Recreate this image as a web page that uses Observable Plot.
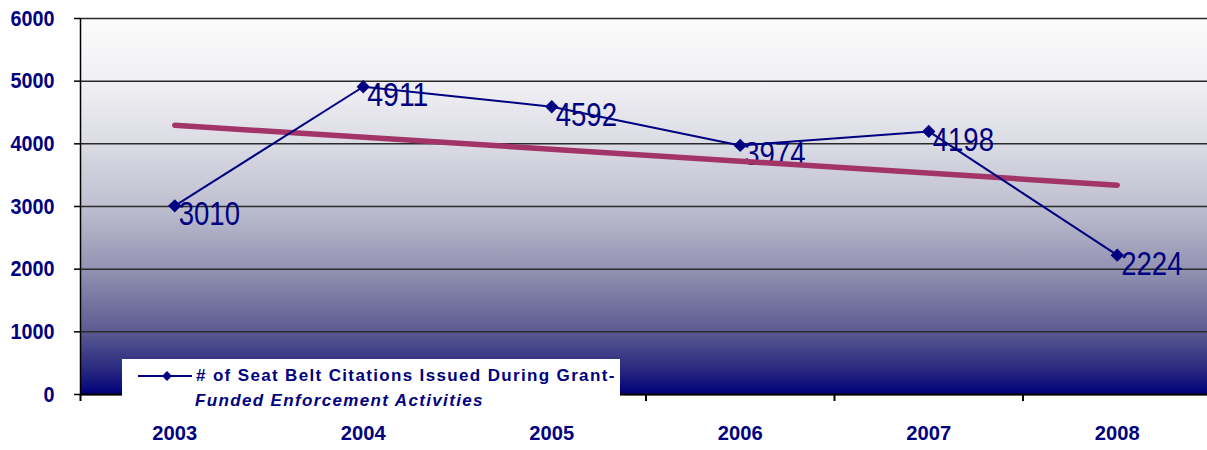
<!DOCTYPE html>
<html>
<head>
<meta charset="utf-8">
<script src="https://cdn.jsdelivr.net/npm/d3@7"></script>
<script src="https://cdn.jsdelivr.net/npm/@observablehq/plot@0.6"></script>
<style>
  html, body { margin: 0; padding: 0; background: #fff; overflow: hidden; }
  #wrap { position: relative; width: 1207px; height: 450px; }
  #legend {
    position: absolute; left: 122px; top: 359px; width: 498px; height: 56px;
    background: #fff; color: #000080;
    font-family: "Liberation Sans", Arial, sans-serif; font-size: 17px; font-weight: bold;
    letter-spacing: 1.35px;
  }
  #legend .l1 { position: absolute; left: 16px; top: 7px; white-space: nowrap; display: flex; align-items: center; }
  #legend .l2 { position: absolute; left: 73px; top: 32px; white-space: nowrap; font-style: italic; }
</style>
</head>
<body>
<div id="wrap"></div>
<script>
const years = [2003, 2004, 2005, 2006, 2007, 2008];
const citations = [3010, 4911, 4592, 3974, 4198, 2224];
const yTicks = [0, 1000, 2000, 3000, 4000, 5000, 6000];
const seriesName = ["# of Seat Belt Citations Issued During Grant-", "Funded Enforcement Activities"];

const data = years.map((year, i) => ({year, value: citations[i]}));
const boundaries = [years[0] - 0.5, ...years.map(y => y + 0.5)];

const navy = "#000080";
const sans = "'Liberation Sans', Arial, sans-serif";

function background(index, scales, values, dim) {
  const ns = "http://www.w3.org/2000/svg";
  const g = document.createElementNS(ns, "g");
  const defs = document.createElementNS(ns, "defs");
  const grad = document.createElementNS(ns, "linearGradient");
  grad.setAttribute("id", "bg");
  grad.setAttribute("x1", "0"); grad.setAttribute("y1", "0");
  grad.setAttribute("x2", "0"); grad.setAttribute("y2", "1");
  [[0, "#fcfcfc"], [0.17, "#f0f0f4"], [0.33, "#dcdce5"], [0.5, "#bfbfd0"],
   [0.67, "#9292b2"], [0.83, "#5c5c93"], [0.94, "#26267f"], [1, "#00007c"]].forEach(([o, c]) => {
    const s = document.createElementNS(ns, "stop");
    s.setAttribute("offset", o); s.setAttribute("stop-color", c);
    grad.appendChild(s);
  });
  defs.appendChild(grad);
  g.appendChild(defs);
  const r = document.createElementNS(ns, "rect");
  r.setAttribute("x", dim.marginLeft);
  r.setAttribute("y", dim.marginTop);
  r.setAttribute("width", dim.width - dim.marginLeft - dim.marginRight);
  r.setAttribute("height", dim.height - dim.marginTop - dim.marginBottom);
  r.setAttribute("fill", "url(#bg)");
  g.appendChild(r);
  return g;
}

const plot = Plot.plot({
  width: 1207,
  height: 450,
  marginTop: 18,
  marginBottom: 56,
  marginLeft: 80,
  marginRight: 0,
  style: {background: "transparent", overflow: "visible"},
  x: {domain: [boundaries[0], boundaries[boundaries.length - 1]], range: [80, 1211]},
  y: {domain: [0, 6000]},
  marks: [
    background,
    Plot.gridY(yTicks, {stroke: "#2a2a2a", strokeOpacity: 1, strokeWidth: 1.5}),
    Plot.axisY({ticks: yTicks, tickSize: 6, tickPadding: 20, tickFormat: d => String(d),
      fontSize: 22, fontWeight: "bold", fill: navy, fontFamily: sans, stroke: null, label: null}),
    Plot.axisY({ticks: yTicks, tickSize: 6, text: null, stroke: "#000", strokeWidth: 1.5, label: null}),
    Plot.axisX({ticks: boundaries, tickSize: 7, text: null, stroke: "#000", strokeWidth: 2, label: null}),
    Plot.axisX({ticks: years, tickSize: 0, tickPadding: 31, tickFormat: d => String(d),
      fontSize: 21, fontWeight: "bold", fill: navy, fontFamily: sans, label: null}),
    Plot.ruleX([boundaries[0]], {stroke: "#000", strokeWidth: 1.5}),
    Plot.ruleY([0], {stroke: "#000", strokeWidth: 2}),
    Plot.text(data, {x: "year", y: "value", text: d => String(d.value), textAnchor: "start",
      dx: 4, dy: 9, fontSize: 33, fill: navy, fontFamily: sans}),
    Plot.linearRegressionY(data, {x: "year", y: "value", ci: 0, stroke: "#a23468", strokeWidth: 5.5}),
    Plot.line(data, {x: "year", y: "value", stroke: navy, strokeWidth: 2}),
    Plot.dot(data, {x: "year", y: "value", symbol: "diamond2", r: 6, fill: navy, stroke: null})
  ]
});

// condense the narrow-font texts (Arial Narrow look)
function condense(selector, perChar) {
  plot.querySelectorAll(selector).forEach(t => {
    t.setAttribute("textLength", t.textContent.length * perChar);
    t.setAttribute("lengthAdjust", "spacingAndGlyphs");
  });
}
condense('g[aria-label="text"] text', 15.3);
condense('g[aria-label="y-axis tick label"] text', 11);
condense('g[aria-label="x-axis tick label"] text', 11.2);

const wrap = document.getElementById("wrap");
wrap.appendChild(plot);

const legend = document.createElement("div");
legend.id = "legend";
legend.innerHTML =
  '<div class="l1"><svg width="56" height="12" style="margin-right:2px"><line x1="0" y1="6" x2="54" y2="6" stroke="' + navy + '" stroke-width="2"/>' +
  '<path d="M29,1 L34,6 L29,11 L24,6 Z" fill="' + navy + '"/></svg><span></span></div><div class="l2"></div>';
legend.querySelector(".l1 span").textContent = seriesName[0];
legend.querySelector(".l2").textContent = seriesName[1];
wrap.appendChild(legend);
</script>
</body>
</html>
